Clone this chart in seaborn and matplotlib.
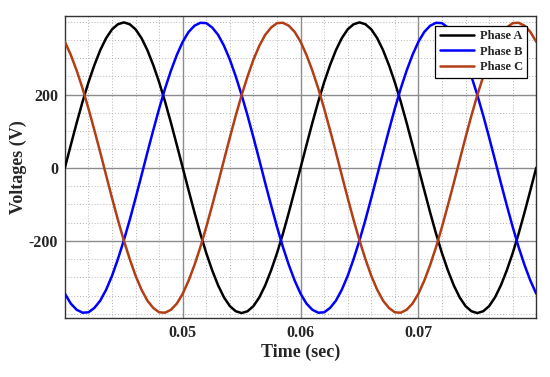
import numpy as np
import pandas as pd
import matplotlib
matplotlib.use("Agg")
import matplotlib.pyplot as plt
import seaborn as sns
from matplotlib.ticker import MultipleLocator

# sample clock: 0.04 s .. 0.08 s, one sample every 0.5 ms
time_s = np.linspace(0.04, 0.08, 81)

# voltages (V)
phase_a = [0, 62, 123, 181, 234, 281, 322, 355, 379, 393, 398, 393, 379, 355, 322, 281, 234, 181, 123, 62,
           0, -62, -123, -181, -234, -281, -322, -355, -379, -393, -398, -393, -379, -355, -322, -281, -234, -181, -123, -62,
           0, 62, 123, 181, 234, 281, 322, 355, 379, 393, 398, 393, 379, 355, 322, 281, 234, 181, 123, 62,
           0, -62, -123, -181, -234, -281, -322, -355, -379, -393, -398, -393, -379, -355, -322, -281, -234, -181, -123, -62,
           0]
phase_b = [-345, -372, -389, -397, -396, -384, -364, -334, -296, -250, -199, -143, -83, -21, 42, 103, 162, 217, 266, 309,
           345, 372, 389, 397, 396, 384, 364, 334, 296, 250, 199, 143, 83, 21, -42, -103, -162, -217, -266, -309,
           -345, -372, -389, -397, -396, -384, -364, -334, -296, -250, -199, -143, -83, -21, 42, 103, 162, 217, 266, 309,
           345, 372, 389, 397, 396, 384, 364, 334, 296, 250, 199, 143, 83, 21, -42, -103, -162, -217, -266, -309,
           -345]
phase_c = [345, 309, 266, 217, 162, 103, 42, -21, -83, -143, -199, -250, -296, -334, -364, -384, -396, -397, -389, -372,
           -345, -309, -266, -217, -162, -103, -42, 21, 83, 143, 199, 250, 296, 334, 364, 384, 396, 397, 389, 372,
           345, 309, 266, 217, 162, 103, 42, -21, -83, -143, -199, -250, -296, -334, -364, -384, -396, -397, -389, -372,
           -345, -309, -266, -217, -162, -103, -42, 21, 83, 143, 199, 250, 296, 334, 364, 384, 396, 397, 389, 372,
           345]

labels = ["Phase A", "Phase B", "Phase C"]
colors = ["#000000", "#0000ff", "#b23e16"]

df = pd.concat([
    pd.DataFrame({"Time": time_s, "Voltage": v, "Phase": name})
    for v, name in zip([phase_a, phase_b, phase_c], labels)
])

sns.set_style("white")
plt.rcParams['font.family'] = ['Liberation Serif', 'DejaVu Serif']
plt.rcParams['font.weight'] = 'bold'

fig = plt.figure(figsize=(5.5, 3.77), dpi=100)
ax = fig.add_axes([0.118, 0.157, 0.857, 0.801])

sns.lineplot(data=df, x="Time", y="Voltage", hue="Phase", palette=colors,
             linewidth=1.8, ax=ax, zorder=3)

ax.set_xlim(0.04, 0.08)
ax.set_ylim(-411, 416)
ax.xaxis.set_major_locator(MultipleLocator(0.01))
ax.xaxis.set_minor_locator(MultipleLocator(0.002))
ax.yaxis.set_major_locator(MultipleLocator(200))
ax.yaxis.set_minor_locator(MultipleLocator(50))
ax.set_xticks([0.05, 0.06, 0.07])
ax.set_xticklabels(["0.05", "0.06", "0.07"])
ax.set_yticks([-200, 0, 200])
ax.set_yticklabels(["-200", "0", "200"])

ax.grid(which='major', color='#8c8c8c', linewidth=1.0, linestyle='-')
ax.grid(which='minor', color='#b5b5b5', linewidth=0.7, linestyle=(0, (1, 2)))
ax.set_axisbelow(True)

ax.tick_params(which='both', direction='in', length=3, labelsize=11.5, pad=5, color='#333333')
ax.tick_params(which='minor', length=0)
for lab in ax.get_xticklabels() + ax.get_yticklabels():
    lab.set_fontweight('bold')
for sp in ax.spines.values():
    sp.set_color('#333333')
    sp.set_linewidth(1.0)

ax.set_xlabel("Time (sec)", fontsize=13, fontweight='bold', labelpad=2)
ax.set_ylabel("Voltages (V)", fontsize=13, fontweight='bold', labelpad=1)

leg = ax.legend(loc='upper right', bbox_to_anchor=(0.981, 0.967), fancybox=False,
                framealpha=1, edgecolor='black', handlelength=2.7,
                prop={'weight': 'bold', 'size': 9}, borderpad=0.35,
                labelspacing=0.28, handletextpad=0.5, borderaxespad=0)
leg.get_frame().set_linewidth(0.9)

fig.savefig("out.png", dpi=100)
